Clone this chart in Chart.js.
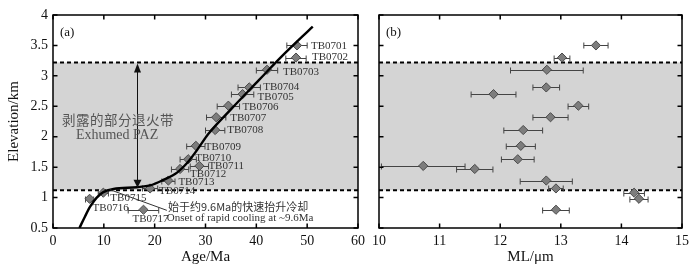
<!DOCTYPE html>
<html><head><meta charset="utf-8">
<script src="https://cdn.jsdelivr.net/npm/chart.js@4/dist/chart.umd.min.js"></script>
<style>
body{margin:0;background:#fff;width:699px;height:272px;overflow:hidden;position:relative}
canvas{position:absolute;top:0}
</style></head><body>
<canvas id="cb" width="334" height="272" style="left:365px"></canvas>
<canvas id="ca" width="375" height="272" style="left:0"></canvas>
<script>
// ---- data ----
const categories = ['TB0701','TB0702','TB0703','TB0704','TB0705','TB0706','TB0707','TB0708','TB0709','TB0710','TB0711','TB0712','TB0713','TB0714','TB0715','TB0716','TB0717'];
const elevation = [3.50,3.30,3.10,2.81,2.70,2.51,2.32,2.11,1.85,1.63,1.52,1.47,1.28,1.15,1.08,0.98,0.80];
const age       = [48.0,47.8,42.1,38.6,37.3,34.5,32.1,31.9,28.1,26.6,28.8,25.0,22.7,19.1,9.9,7.2,17.8];
const ageErr    = [2.0,2.0,2.1,2.2,2.2,2.2,1.9,1.9,1.8,1.6,1.8,1.7,1.3,1.5,1.0,0.8,3.0];
const meanLength = [13.58,13.02,12.77,12.76,11.89,13.29,12.83,12.38,12.34,12.29,10.73,11.58,12.76,12.92,14.21,14.29,12.92];
const lengthErr  = [0.20,0.13,0.60,0.22,0.37,0.17,0.29,0.32,0.24,0.27,0.69,0.30,0.43,0.12,0.17,0.15,0.22];
const curveAge  = [5.2,6.3,7.3,8.6,9.9,11.9,16.5,19.1,21.7,24.4,26.5,28.5,30.5,35.0,40.5,45.0,51.1];
const curveElev = [0.50,0.69,0.85,1.00,1.09,1.14,1.17,1.20,1.29,1.41,1.58,1.80,2.04,2.45,2.93,3.32,3.81];
const pazBottom = 1.12, pazTop = 3.22;
const arrowAge = 16.6, arrowEnd = 1.16;
const ageTicks = {min:0, max:60, step:10};
const mlTicks = {min:10, max:15, step:1};
const elevTicks = {min:0.5, max:4, step:0.5};
const pazText = ['剥露的部分退火带','Exhumed PAZ'];
const onsetText = ['始于约9.6Ma的快速抬升冷却','Onset of rapid cooling at ~9.6Ma'];

// ---- layout / style (pixel offsets of sample labels from their points) ----
const labelOffsets = [[14,1],[16,0],[16,2],[14,0],[15,3],[14,1],[14,1],[12,0],[9,1],[7,-1],[9,0],[10,5],[10,2],[9,3],[7,5],[3,9],[-11,9]];
const SERIF = "'Liberation Serif','Times New Roman',serif";
const CJK = "'Noto Sans CJK SC','Liberation Serif',sans-serif";

function drawBand(chart){
  const {ctx, chartArea:a, scales:{y}} = chart;
  const yt = y.getPixelForValue(pazTop), yb = y.getPixelForValue(pazBottom);
  ctx.save();
  ctx.fillStyle = '#d4d4d4';
  ctx.fillRect(a.left, yt, a.right - a.left, yb - yt);
  ctx.strokeStyle = '#000'; ctx.lineWidth = 2; ctx.setLineDash([4,3]);
  [yt, yb].forEach(v => { ctx.beginPath(); ctx.moveTo(a.left, v); ctx.lineTo(a.right, v); ctx.stroke(); });
  ctx.restore();
}
function drawErr(chart, xs, errs){
  const {ctx, scales:{x, y}} = chart;
  ctx.save(); ctx.strokeStyle = '#444'; ctx.lineWidth = 1;
  xs.forEach((v,i) => {
    const py = Math.round(y.getPixelForValue(elevation[i])) + 0.5;
    const x1 = x.getPixelForValue(v - errs[i]), x2 = x.getPixelForValue(v + errs[i]);
    ctx.beginPath(); ctx.moveTo(x1, py); ctx.lineTo(x2, py);
    ctx.moveTo(x1, py-3); ctx.lineTo(x1, py+3);
    ctx.moveTo(x2, py-3); ctx.lineTo(x2, py+3);
    ctx.stroke();
  });
  ctx.restore();
}
function drawFrame(chart, xt, yt){
  const {ctx, chartArea:a, scales:{x, y}} = chart;
  ctx.save(); ctx.strokeStyle = '#000'; ctx.lineWidth = 1.5;
  const L = 4.5;
  ctx.beginPath();
  for (let v = xt.min; v <= xt.max + 1e-9; v += xt.step){
    const px = x.getPixelForValue(v);
    ctx.moveTo(px, a.bottom); ctx.lineTo(px, a.bottom - L);
    ctx.moveTo(px, a.top); ctx.lineTo(px, a.top + L);
  }
  for (let v = yt.min; v <= yt.max + 1e-9; v += yt.step){
    const py = y.getPixelForValue(v);
    ctx.moveTo(a.left, py); ctx.lineTo(a.left + L, py);
    ctx.moveTo(a.right, py); ctx.lineTo(a.right - L, py);
  }
  ctx.stroke();
  ctx.strokeRect(a.left, a.top, a.right - a.left, a.bottom - a.top);
  ctx.restore();
}
function panelLetter(chart, t){
  const {ctx, chartArea:a} = chart;
  ctx.save(); ctx.font = '13px ' + SERIF; ctx.fillStyle = '#111';
  ctx.textBaseline = 'middle'; ctx.fillText(t, a.left + 7, a.top + 18); ctx.restore();
}

const pluginA = {
  id: 'pa',
  beforeDatasetsDraw(chart){ drawBand(chart); drawErr(chart, age, ageErr); },
  afterDatasetsDraw(chart){
    const {ctx, scales:{x, y}} = chart;
    ctx.save();
    ctx.font = '11px ' + SERIF; ctx.fillStyle = '#333'; ctx.textBaseline = 'middle';
    categories.forEach((c,i) => {
      const px = x.getPixelForValue(age[i]), py = y.getPixelForValue(elevation[i]);
      ctx.fillText(c, px + labelOffsets[i][0], py + labelOffsets[i][1]);
    });
    const ax = Math.round(x.getPixelForValue(arrowAge)) + 0.5;
    const y1 = y.getPixelForValue(pazTop) + 1, y2 = y.getPixelForValue(arrowEnd);
    ctx.strokeStyle = '#111'; ctx.fillStyle = '#111'; ctx.lineWidth = 1;
    ctx.beginPath(); ctx.moveTo(ax, y1 + 6); ctx.lineTo(ax, y2 - 6); ctx.stroke();
    ctx.beginPath(); ctx.moveTo(ax, y1); ctx.lineTo(ax - 3.5, y1 + 9); ctx.lineTo(ax + 3.5, y1 + 9); ctx.closePath(); ctx.fill();
    ctx.beginPath(); ctx.moveTo(ax, y2); ctx.lineTo(ax - 4, y2 - 8); ctx.lineTo(ax + 4, y2 - 8); ctx.closePath(); ctx.fill();
    ctx.fillStyle = '#555'; ctx.textAlign = 'center';
    ctx.font = '13.5px ' + CJK; ctx.letterSpacing = '0.5px';
    ctx.fillText(pazText[0], x.getPixelForValue(12.8), y.getPixelForValue(2.28));
    ctx.letterSpacing = '0px';
    ctx.font = '14px ' + SERIF;
    ctx.fillText(pazText[1], x.getPixelForValue(12.6), y.getPixelForValue(2.03));
    ctx.strokeStyle = '#333'; ctx.lineWidth = 1;
    ctx.beginPath(); ctx.moveTo(x.getPixelForValue(11.2), y.getPixelForValue(1.13));
    ctx.lineTo(x.getPixelForValue(22.4), y.getPixelForValue(0.79)); ctx.stroke();
    ctx.textAlign = 'left'; ctx.fillStyle = '#333';
    ctx.font = '11px ' + CJK;
    ctx.fillText(onsetText[0], x.getPixelForValue(22.6), y.getPixelForValue(0.845));
    ctx.font = '11px ' + SERIF;
    ctx.fillText(onsetText[1], x.getPixelForValue(22.4), y.getPixelForValue(0.655));
    ctx.restore();
    panelLetter(chart, '(a)');
    drawFrame(chart, ageTicks, elevTicks);
  }
};
const pluginB = {
  id: 'pb',
  beforeDatasetsDraw(chart){ drawBand(chart); drawErr(chart, meanLength, lengthErr); },
  afterDatasetsDraw(chart){ panelLetter(chart, '(b)'); drawFrame(chart, mlTicks, elevTicks); }
};

const tickFont = {family: SERIF, size: 14};
const diamond = {pointStyle:'rectRot', pointRadius:4.6, backgroundColor:'#7d7d7d', borderColor:'#4a4a4a', borderWidth:1};

function xScale(t, title){
  return {type:'linear', min:t.min, max:t.max,
    ticks:{stepSize:t.step, font:tickFont, color:'#111', padding:5},
    grid:{display:false, drawTicks:false}, border:{display:false},
    title:{display:true, text:title, font:{family:SERIF, size:15}, color:'#111', padding:{top:0,bottom:6}},
    afterFit(s){ s.height = 44; }};
}
function yScale(show, w){
  return {type:'linear', min:elevTicks.min, max:elevTicks.max,
    ticks:{display:show, stepSize:elevTicks.step, font:tickFont, color:'#111', padding:5,
      callback:(v) => String(+Number(v).toFixed(1))},
    grid:{display:false, drawTicks:false}, border:{display:false},
    title:{display:show, text:'Elevation/km', font:{family:SERIF, size:15}, color:'#111', padding:{top:5,bottom:0}},
    afterFit(s){ s.width = w; }};
}
const common = {responsive:false, animation:false, devicePixelRatio:1,
  plugins:{legend:{display:false}, tooltip:{enabled:false}}};

new Chart(document.getElementById('ca'), {
  type:'scatter',
  data:{datasets:[
    {type:'line', data:curveAge.map((a,i)=>({x:a, y:curveElev[i]})), borderColor:'#000', borderWidth:2.4,
     pointRadius:0, cubicInterpolationMode:'monotone', fill:false},
    Object.assign({data:age.map((a,i)=>({x:a, y:elevation[i]}))}, diamond)
  ]},
  options:Object.assign({}, common, {layout:{padding:{left:0,right:17,top:15,bottom:0}},
    scales:{x:xScale(ageTicks,'Age/Ma'), y:yScale(true,53)}}),
  plugins:[pluginA]
});
new Chart(document.getElementById('cb'), {
  type:'scatter',
  data:{datasets:[Object.assign({data:meanLength.map((m,i)=>({x:m, y:elevation[i]}))}, diamond)]},
  options:Object.assign({}, common, {layout:{padding:{left:0,right:17,top:15,bottom:0}},
    scales:{x:xScale(mlTicks,'ML/μm'), y:yScale(false,14)}}),
  plugins:[pluginB]
});
</script>
</body></html>
